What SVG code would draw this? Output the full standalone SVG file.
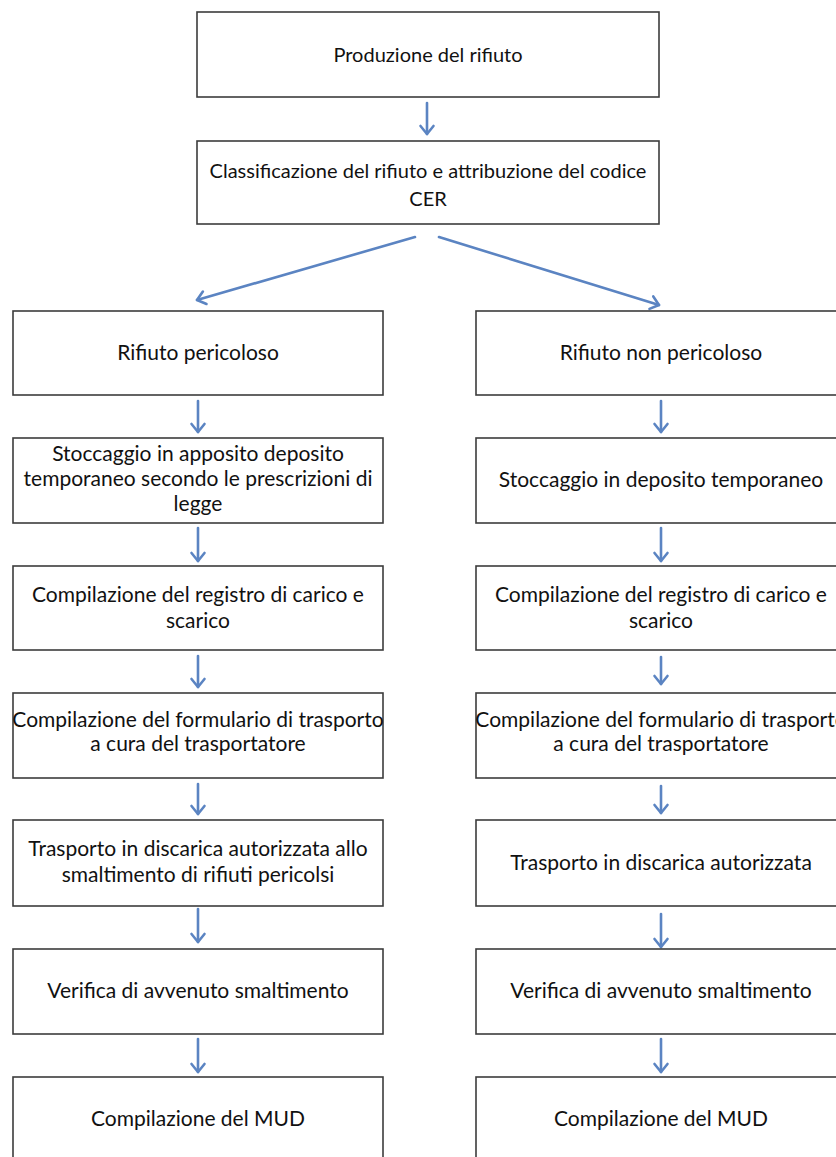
<svg xmlns="http://www.w3.org/2000/svg" width="836" height="1157" viewBox="0 0 836 1157">
<style>
.box{fill:#fff;stroke:#3c3c3c;stroke-width:1.6}
.t{font-family:Lato,"Open Sans",sans-serif;font-size:21px;fill:#111;text-anchor:middle}
.s{font-size:20px}
.c{stroke:#5b84c2;stroke-width:2.6;fill:none;stroke-linecap:round}
</style>
<defs>
<marker id="ah" markerUnits="userSpaceOnUse" markerWidth="20" markerHeight="20" viewBox="-10 -10 20 20" refX="0" refY="0" orient="auto">
<path d="M-8,-6.5 L0,0 L-8,6.5" fill="none" stroke="#5b84c2" stroke-width="2.6" stroke-linecap="round" stroke-linejoin="round"/>
</marker>
</defs>
<rect width="836" height="1157" fill="#fff"/>
<g id="connectors">
<line class="c" x1="427" y1="103" x2="427" y2="134" marker-end="url(#ah)"/>
<line class="c" x1="415" y1="237" x2="197" y2="300" marker-end="url(#ah)"/>
<line class="c" x1="439" y1="237" x2="659" y2="305" marker-end="url(#ah)"/>
<line class="c" x1="198" y1="401" x2="198" y2="432" marker-end="url(#ah)"/>
<line class="c" x1="198" y1="528" x2="198" y2="561" marker-end="url(#ah)"/>
<line class="c" x1="198" y1="656" x2="198" y2="687" marker-end="url(#ah)"/>
<line class="c" x1="198" y1="784" x2="198" y2="814" marker-end="url(#ah)"/>
<line class="c" x1="198" y1="909" x2="198" y2="942" marker-end="url(#ah)"/>
<line class="c" x1="198" y1="1039" x2="198" y2="1072" marker-end="url(#ah)"/>
<line class="c" x1="661" y1="401" x2="661" y2="432" marker-end="url(#ah)"/>
<line class="c" x1="661" y1="528" x2="661" y2="561" marker-end="url(#ah)"/>
<line class="c" x1="661" y1="657" x2="661" y2="684" marker-end="url(#ah)"/>
<line class="c" x1="661" y1="786" x2="661" y2="813" marker-end="url(#ah)"/>
<line class="c" x1="661" y1="914" x2="661" y2="947" marker-end="url(#ah)"/>
<line class="c" x1="661" y1="1039" x2="661" y2="1072" marker-end="url(#ah)"/>
</g>
<g id="n-produzione"><rect class="box" x="197" y="12" width="462" height="85"/><text class="t s" x="428" y="62">Produzione del rifiuto</text></g>
<g id="n-classificazione"><rect class="box" x="197" y="141" width="462" height="83"/><text class="t s" x="428" y="178">Classificazione del rifiuto e attribuzione del codice</text><text class="t s" x="428" y="206">CER</text></g>
<g id="n-l1"><rect class="box" x="13" y="311" width="370" height="84"/><text class="t" x="198" y="360">Rifiuto pericoloso</text></g>
<g id="n-l2"><rect class="box" x="13" y="438" width="370" height="85"/><text class="t" x="198" y="461">Stoccaggio in apposito deposito</text><text class="t" x="198" y="486">temporaneo secondo le prescrizioni di</text><text class="t" x="198" y="511">legge</text></g>
<g id="n-l3"><rect class="box" x="13" y="566" width="370" height="84"/><text class="t" x="198" y="602">Compilazione del registro di carico e</text><text class="t" x="198" y="628">scarico</text></g>
<g id="n-l4"><rect class="box" x="13" y="693" width="370" height="85"/><text class="t" x="198" y="727">Compilazione del formulario di trasporto</text><text class="t" x="198" y="751">a cura del trasportatore</text></g>
<g id="n-l5"><rect class="box" x="13" y="820" width="370" height="86"/><text class="t" x="198" y="856">Trasporto in discarica autorizzata allo</text><text class="t" x="198" y="882">smaltimento di rifiuti pericolsi</text></g>
<g id="n-l6"><rect class="box" x="13" y="949" width="370" height="85"/><text class="t" x="198" y="998">Verifica di avvenuto smaltimento</text></g>
<g id="n-l7"><rect class="box" x="13" y="1077" width="370" height="90"/><text class="t" x="198" y="1126">Compilazione del MUD</text></g>
<g id="n-r1"><rect class="box" x="476" y="311" width="370" height="84"/><text class="t" x="661" y="360">Rifiuto non pericoloso</text></g>
<g id="n-r2"><rect class="box" x="476" y="438" width="370" height="85"/><text class="t" x="661" y="487">Stoccaggio in deposito temporaneo</text></g>
<g id="n-r3"><rect class="box" x="476" y="566" width="370" height="84"/><text class="t" x="661" y="602">Compilazione del registro di carico e</text><text class="t" x="661" y="628">scarico</text></g>
<g id="n-r4"><rect class="box" x="476" y="693" width="370" height="85"/><text class="t" x="661" y="727">Compilazione del formulario di trasporto</text><text class="t" x="661" y="751">a cura del trasportatore</text></g>
<g id="n-r5"><rect class="box" x="476" y="820" width="370" height="86"/><text class="t" x="661" y="870">Trasporto in discarica autorizzata</text></g>
<g id="n-r6"><rect class="box" x="476" y="949" width="370" height="85"/><text class="t" x="661" y="998">Verifica di avvenuto smaltimento</text></g>
<g id="n-r7"><rect class="box" x="476" y="1077" width="370" height="90"/><text class="t" x="661" y="1126">Compilazione del MUD</text></g>
</svg>
